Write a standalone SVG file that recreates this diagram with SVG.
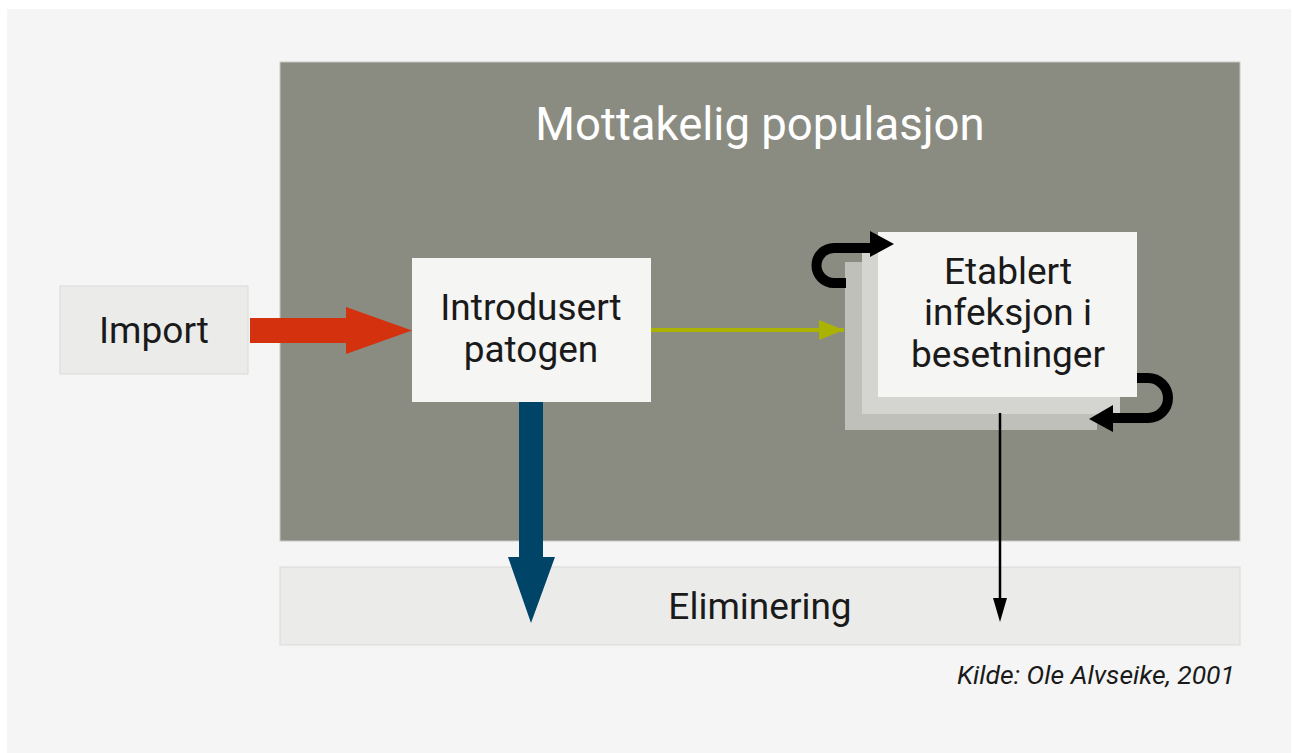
<svg xmlns="http://www.w3.org/2000/svg" width="1293" height="753" viewBox="0 0 1293 753">
<defs>
<style>
text{font-family:Roboto,"Liberation Sans",sans-serif;fill:#1a1a1a;text-anchor:middle}
.lbl{font-size:37px}
.title{font-size:45.5px;fill:#ffffff}
.src{font-size:26.5px;font-style:italic;text-anchor:end}
.loop{fill:none;stroke:#000;stroke-width:10}
</style>
<marker id="ygHead" markerWidth="25" markerHeight="20" refX="25" refY="10" orient="auto" markerUnits="userSpaceOnUse"><path d="M0,0 L25,10 L0,20 Z" fill="#aab300"/></marker>
</defs>
<rect x="0" y="0" width="1293" height="753" fill="#ffffff"/>
<rect x="7" y="9" width="1284" height="744" fill="#f5f5f5"/>

<g id="population">
<rect x="280" y="62" width="960" height="479" fill="#8a8c82" stroke="#c8c8c4" stroke-width="1"/>
<text class="title" x="760" y="140">Mottakelig populasjon</text>
</g>

<g id="import">
<rect x="60" y="286" width="188" height="88" fill="#ebebea" stroke="#dadad8" stroke-width="1"/>
<text class="lbl" x="154" y="343">Import</text>
</g>

<g id="introdusert">
<rect x="412" y="258" width="239" height="144" fill="#f5f5f4"/>
<text class="lbl" x="531" y="320">Introdusert</text>
<text class="lbl" x="531" y="362">patogen</text>
</g>

<g id="etablert">
<rect x="845" y="262" width="252" height="168" fill="#bfc0b9"/>
<rect x="862" y="248" width="258" height="166" fill="#d4d4d0"/>
<rect x="878" y="232" width="259" height="165" fill="#f5f5f4"/>
<text class="lbl" x="1008" y="284">Etablert</text>
<text class="lbl" x="1008" y="325">infeksjon i</text>
<text class="lbl" x="1008" y="367">besetninger</text>
</g>

<g id="eliminering">
<rect x="280" y="567" width="960" height="78" fill="#ebebea" stroke="#dadad8" stroke-width="1"/>
<text class="lbl" x="760" y="619">Eliminering</text>
</g>

<g id="connectors">
<path d="M250,318 H346 V307 L412,330.5 L346,354 V343 H250 Z" fill="#d4310f"/>
<line x1="651" y1="330" x2="844" y2="330" stroke="#aab300" stroke-width="4" marker-end="url(#ygHead)"/>
<path d="M519,402 H543 V557 H555 L531,623 L508,557 H519 Z" fill="#004468"/>
<line x1="1000" y1="413" x2="1000" y2="598" stroke="#000" stroke-width="2.5"/>
<path d="M993,598 L1007,598 L1000,622 Z" fill="#000"/>
<path class="loop" d="M846,283 H834 A17.5,17.5 0 0 1 834,248 H872"/>
<path d="M870,231 L894,244 L870,257 Z" fill="#000"/>
<path class="loop" d="M1137,378 H1148 A20,20 0 0 1 1148,418 H1110"/>
<path d="M1113,405 L1089,419 L1113,432 Z" fill="#000"/>
</g>

<text class="src" x="1235" y="684">Kilde: Ole Alvseike, 2001</text>
</svg>
